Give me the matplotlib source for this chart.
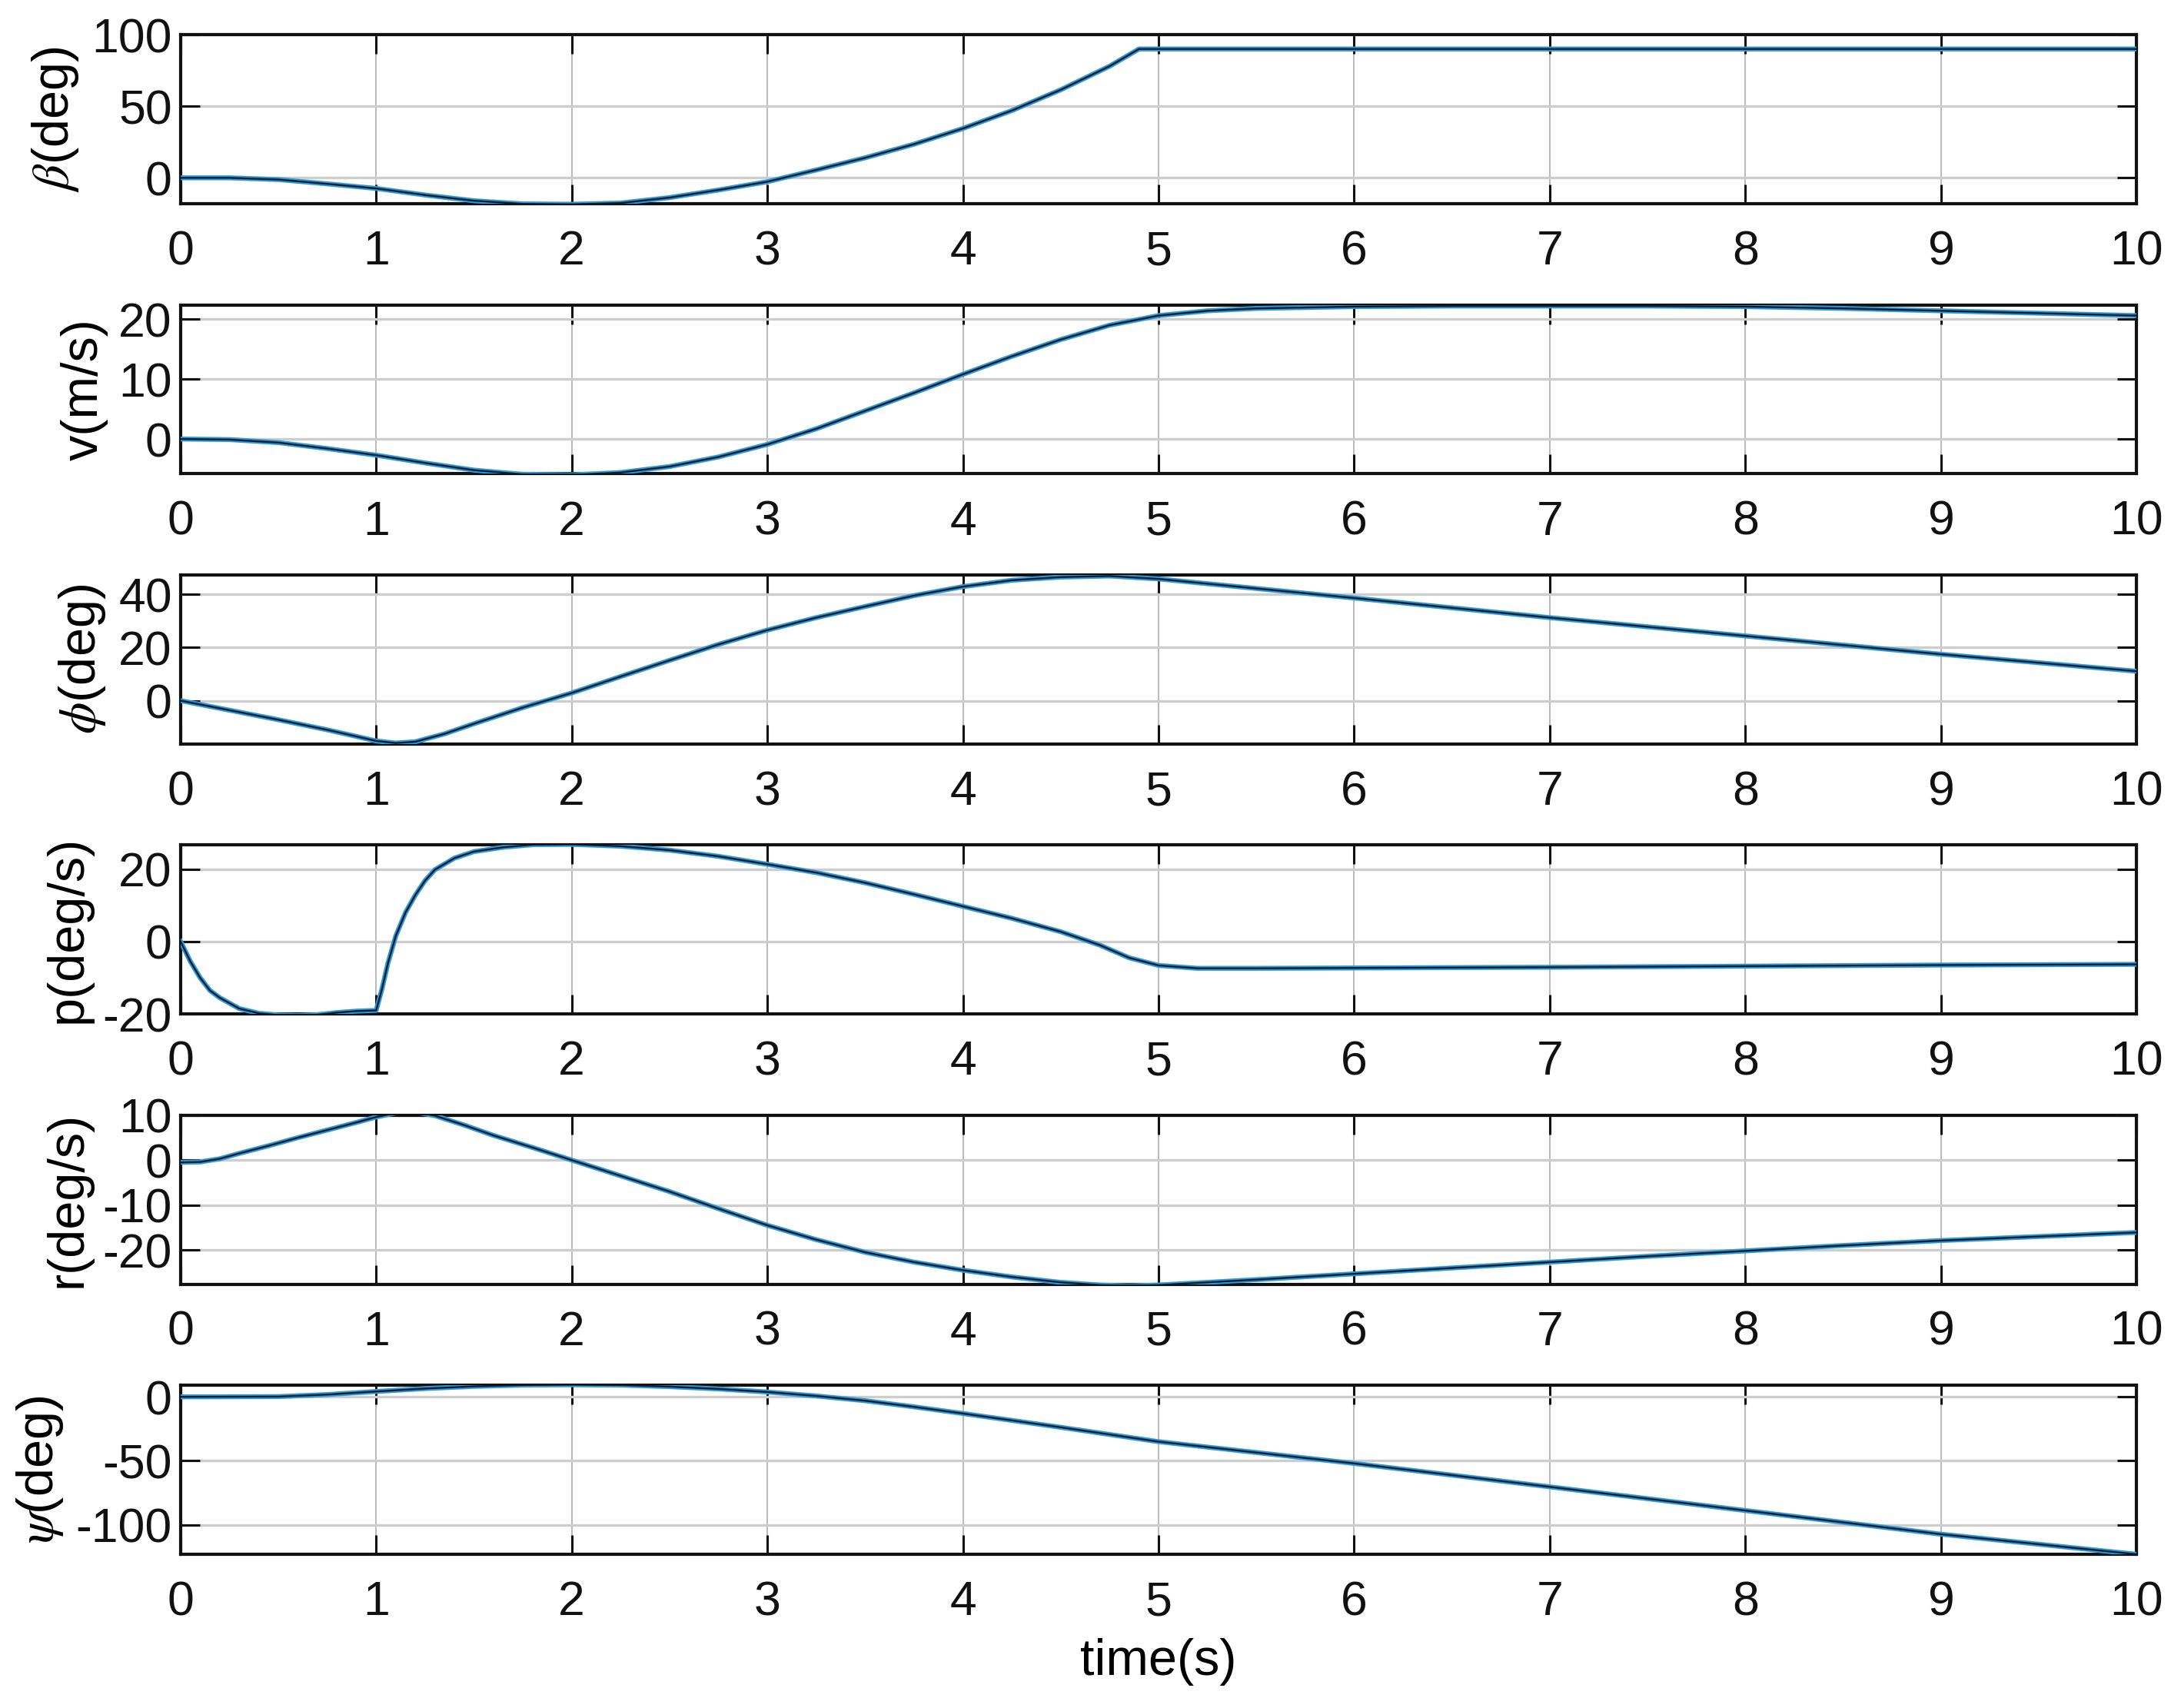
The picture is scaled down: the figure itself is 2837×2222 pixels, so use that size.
import numpy as np
import matplotlib
matplotlib.use('Agg')
import matplotlib.pyplot as plt

plt.rcParams['font.family'] = ['Liberation Sans', 'DejaVu Sans']
plt.rcParams['mathtext.fontset'] = 'stix'
plt.rcParams['axes.unicode_minus'] = False

# ---------------- data ----------------
t_beta = [0, 0.25, 0.5, 0.75, 1, 1.25, 1.5, 1.75, 2, 2.25, 2.5, 2.75, 3, 3.25,
          3.5, 3.75, 4, 4.25, 4.5, 4.75, 4.9, 5, 6, 7, 8, 9, 10]
beta = [0, 0, -1.2, -4.2, -7.4, -12.0, -16.0, -18.2, -18.5, -17.6, -13.8, -8.5,
        -2.7, 5.5, 14, 23.5, 34.5, 47, 61.5, 78, 90, 90, 90, 90, 90, 90, 90]

t_v = [0, 0.25, 0.5, 0.75, 1, 1.25, 1.5, 1.75, 2, 2.25, 2.5, 2.75, 3, 3.25, 3.5,
       3.75, 4, 4.25, 4.5, 4.75, 5, 5.25, 5.5, 6, 6.5, 7, 7.5, 8, 8.5, 9, 9.5, 10]
v = [0, -0.1, -0.6, -1.6, -2.7, -4.0, -5.2, -5.9, -6.0, -5.6, -4.6, -3.0, -0.9,
     1.7, 4.7, 7.7, 10.8, 13.8, 16.6, 19.0, 20.6, 21.4, 21.8, 22.1, 22.2, 22.2,
     22.2, 22.1, 21.8, 21.4, 21.0, 20.6]

t_phi = [0, 0.25, 0.5, 0.75, 0.9, 1.0, 1.1, 1.2, 1.35, 1.5, 1.75, 2, 2.25, 2.5,
         2.75, 3, 3.25, 3.5, 3.75, 4, 4.25, 4.5, 4.75, 5, 5.5, 6, 7, 8, 9, 10]
phi = [0, -3.6, -7.2, -11.0, -13.5, -15.2, -16.0, -15.5, -12.5, -8.7, -2.6, 2.9,
       9.1, 15.2, 21.2, 26.6, 31.3, 35.5, 39.6, 43.0, 45.4, 46.6, 47.0, 45.9,
       42.3, 38.7, 31.3, 24.4, 17.5, 11.1]

t_p = [0, 0.05, 0.1, 0.15, 0.2, 0.3, 0.4, 0.5, 0.6, 0.7, 0.8, 0.9, 1.0, 1.03,
       1.06, 1.1, 1.15, 1.2, 1.25, 1.3, 1.4, 1.5, 1.65, 1.8, 2.0, 2.25, 2.5,
       2.75, 3, 3.25, 3.5, 3.75, 4, 4.25, 4.5, 4.7, 4.85, 5, 5.2, 5.5, 6, 7, 8,
       9, 10]
p = [0, -5.5, -10, -13.5, -15.5, -18.5, -19.8, -20.3, -20.4, -20.2, -19.6,
     -19.2, -19.0, -13, -6, 1.5, 8, 12.8, 16.8, 19.8, 23, 24.8, 26, 26.7, 26.8,
     26.3, 25.2, 23.5, 21.3, 19, 16.2, 13, 9.7, 6.4, 2.7, -1.0, -4.5, -6.6,
     -7.4, -7.4, -7.3, -7.1, -6.8, -6.5, -6.3]

t_r = [0, 0.1, 0.2, 0.3, 0.45, 0.6, 0.75, 0.9, 1, 1.1, 1.15, 1.2, 1.3, 1.45, 1.6,
       1.8, 2, 2.25, 2.5, 2.75, 3, 3.25, 3.5, 3.75, 4, 4.25, 4.5, 4.7, 4.85, 5,
       5.5, 6, 6.5, 7, 7.5, 8, 8.5, 9, 9.5, 10]
r = [-0.5, -0.4, 0.3, 1.5, 3.2, 5.0, 6.7, 8.4, 9.6, 10.5, 10.8, 10.7, 9.9, 7.8,
     5.5, 2.8, 0, -3.5, -7.0, -10.8, -14.5, -17.7, -20.5, -22.7, -24.5, -26.0,
     -27.2, -27.8, -28.0, -27.8, -26.6, -25.3, -24.0, -22.7, -21.4, -20.2, -19.0,
     -17.9, -17.0, -16.1]

t_psi = [0, 0.5, 0.75, 1, 1.25, 1.5, 1.75, 2, 2.25, 2.5, 2.75, 3, 3.25, 3.5,
         3.75, 4, 4.5, 5, 6, 7, 8, 9, 10]
psi = [0, 0.2, 1.8, 4.2, 6.5, 8.2, 9.2, 9.5, 9.2, 8.0, 6.2, 3.8, 0.7, -3.0, -7.8,
       -13.0, -23.8, -35.0, -52.0, -70.3, -88.8, -107.3, -123.0]

x_ticks = list(range(0, 11))
ylabels = [r'$\beta$(deg)', 'v(m/s)', r'$\phi$(deg)', 'p(deg/s)', 'r(deg/s)',
           r'$\psi$(deg)']
ylims = [(-18, 100), (-5.8, 22.4), (-16.3, 47.4), (-20, 26.6), (-27.6, 10),
         (-123, 9)]
yticks = [[0, 50, 100], [0, 10, 20], [0, 20, 40], [-20, 0, 20],
          [-20, -10, 0, 10], [-100, -50, 0]]
series = [(t_beta, beta), (t_v, v), (t_phi, phi), (t_p, p), (t_r, r),
          (t_psi, psi)]

# ---------------- figure ----------------
fig, axes = plt.subplots(6, 1, figsize=(28.37, 22.22), dpi=100)
fig.subplots_adjust(left=0.0828, right=0.9796, top=0.9797, bottom=0.0900,
                    hspace=0.599)

for ax, (tt, yy), lab, yl, yt in zip(axes, series, ylabels, ylims, yticks):
    ax.plot(tt, yy, color='#2a9bd8', lw=4.6, zorder=3)
    ax.plot(tt, yy, color='#0b1a2e', lw=1.7, zorder=4)
    ax.set_xlim(0, 10)
    ax.set_ylim(*yl)
    ax.set_xticks(x_ticks)
    ax.set_yticks(yt)
    ax.set_axisbelow(True)
    ax.grid(True, axis='x', color='#b4b4b4', lw=1.3)
    ax.grid(True, axis='y', color='#cdcdcd', lw=2.4)
    ax.tick_params(direction='in', length=18, width=2.2, labelsize=45,
                   top=True, right=True, colors='#111111')
    ax.tick_params(axis='x', pad=24)
    ax.tick_params(axis='y', pad=8)
    for s in ax.spines.values():
        s.set_linewidth(3)
        s.set_color('#111111')
    ax.set_ylabel(lab, fontsize=48, labelpad=10)

axes[-1].set_xlabel('time(s)', fontsize=48, labelpad=12)

fig.savefig('out.png', dpi=100)
